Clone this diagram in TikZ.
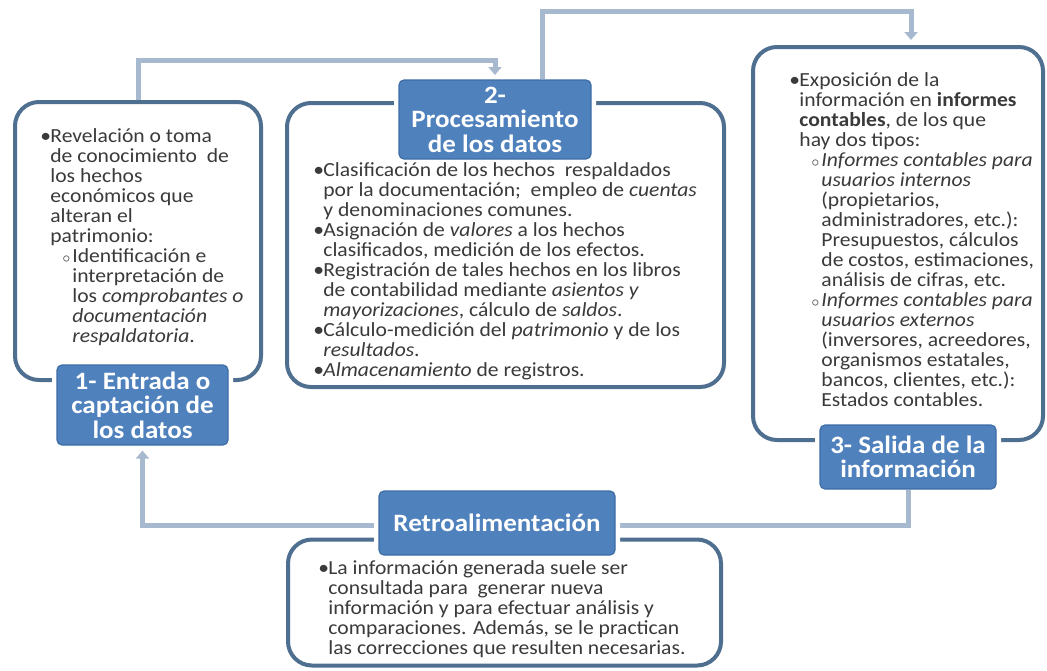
\documentclass[tikz,border=0pt]{standalone}
\usepackage{fontspec}
\setmainfont{Carlito}[FakeStretch=1.08]
\usetikzlibrary{arrows.meta}

\definecolor{panelcol}{HTML}{4F6F90}
\definecolor{tagfill}{HTML}{4F81BD}
\definecolor{tagline}{HTML}{3E6DA6}
\definecolor{flowcol}{HTML}{A7B9CF}
\definecolor{bodytext}{HTML}{3A3A3A}

\newcommand{\bodyfont}{\fontsize{10}{10}\selectfont}
\newcommand{\tagfont}{\fontsize{12.5}{12.25}\selectfont\bfseries}
\newcommand{\bul}{\makebox[5pt][l]{\textbullet}}
\newcommand{\cont}{\hspace*{5pt}}
\newcommand{\sbul}{\hspace*{11pt}\makebox[5pt][l]{$\scriptstyle\circ$}}
\newcommand{\scont}{\hspace*{16pt}}

\tikzset{
  panel/.style={draw=panelcol, line width=2pt, rounded corners=12pt, fill=white, inner sep=0pt},
  tag/.style={fill=tagfill, draw=tagline, line width=0.6pt, rounded corners=2.5pt,
    text=white, font=\tagfont, align=center, inner sep=0pt,
    preaction={draw=white, line width=5pt}},
  flow/.style={draw=flowcol, line width=2.5pt, -{Triangle[width=6.5pt,length=4pt]}, shorten >=2.5pt},
  body/.style={anchor=north west, align=left, inner sep=0pt, text=bodytext, font=\bodyfont},
}

\begin{document}
\begin{tikzpicture}[x=0.5pt,y=-0.5pt]
  \useasboundingbox (0,0) rectangle (1047,670);

  % panels
  \node[panel, minimum width=123pt, minimum height=139pt] (box1) at (138,241) {};
  \node[panel, minimum width=218.5pt, minimum height=142pt] (box2) at (505.5,245) {};
  \node[panel, minimum width=145pt, minimum height=196.5pt] (box3) at (898,243.5) {};
  \node[panel, minimum width=216.5pt, minimum height=63pt] (boxr) at (504.5,602.5) {};

  % connectors
  \draw[flow] (box1.north) -- ++(0,-40) -| (495,80) coordinate (in2);
  \node[tag, minimum width=96pt, minimum height=39.5pt] (lab2) at (495,119.5)
    {2-\\Procesamiento\\de los datos};
  \coordinate (out2) at ([xshift=23.5pt]lab2.north);
  \coordinate (in3) at ([xshift=6.5pt]box3.north);
  \draw[flow] (out2) -- ++(0,-68) -| (in3);

  \node[tag, minimum width=85.5pt, minimum height=40pt] (lab1) at (142.5,405)
    {1- Entrada o\\captación de\\los datos};
  \node[tag, minimum width=88pt, minimum height=32pt] (lab3) at (908,457)
    {3- Salida de la\\información};
  \draw[flow] (lab3.south) -- ++(0,36) -| (lab1.south);
  \node[tag, minimum width=118pt, minimum height=32pt] (labr) at (497,523)
    {Retroalimentación};

  % texts
  \node[body] (txt1) at (40,128) {%
    \bul Revelación o toma\\
    \cont de conocimiento\ \ de\\
    \cont los hechos\\
    \cont económicos que\\
    \cont alteran el\\
    \cont patrimonio:\\
    \sbul Identificación e\\
    \scont interpretación de\\
    \scont los \textit{comprobantes o}\\
    \scont \textit{documentación}\\
    \scont \textit{respaldatoria}.};
  \node[body] (txt2) at (313,162) {%
    \bul Clasificación de los hechos\ \ respaldados\\
    \cont por la documentación;\ \ empleo de \textit{cuentas}\\
    \cont y denominaciones comunes.\\
    \bul Asignación de \textit{valores} a los hechos\\
    \cont clasificados, medición de los efectos.\\
    \bul Registración de tales hechos en los libros\\
    \cont de contabilidad mediante \textit{asientos y}\\
    \cont \textit{mayorizaciones}, cálculo de \textit{saldos}.\\
    \bul Cálculo-medición del \textit{patrimonio} y de los\\
    \cont \textit{resultados}.\\
    \bul \textit{Almacenamiento} de registros.};
  \node[body] (txt3) at (789,72) {%
    \bul Exposición de la\\
    \cont información en \textbf{informes}\\
    \cont \textbf{contables}, de los que\\
    \cont hay dos tipos:\\
    \sbul \textit{Informes contables para}\\
    \scont \textit{usuarios internos}\\
    \scont (propietarios,\\
    \scont administradores, etc.):\\
    \scont Presupuestos, cálculos\\
    \scont de costos, estimaciones,\\
    \scont análisis de cifras, etc.\\
    \sbul \textit{Informes contables para}\\
    \scont \textit{usuarios externos}\\
    \scont (inversores, acreedores,\\
    \scont organismos estatales,\\
    \scont bancos, clientes, etc.):\\
    \scont Estados contables.};
  \node[body] (txtr) at (318,560) {%
    \bul La información generada suele ser\\
    \cont consultada para\ \ generar nueva\\
    \cont información y para efectuar análisis y\\
    \cont comparaciones. Además, se le practican\\
    \cont las correcciones que resulten necesarias.};
\end{tikzpicture}
\end{document}
